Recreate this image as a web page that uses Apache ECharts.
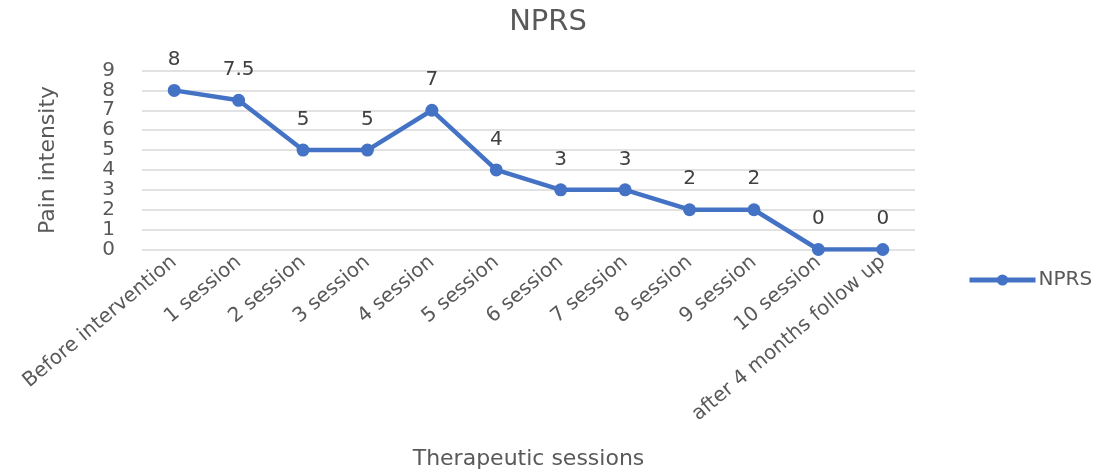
<!DOCTYPE html>
<html><head><meta charset="utf-8">
<script src="https://cdn.jsdelivr.net/npm/echarts@6/dist/echarts.min.js"></script>
<style>html,body{margin:0;padding:0;background:#fff}#c{width:1096px;height:475px}</style>
</head><body><div id="c"></div>
<script>
const categories = ["Before intervention","1 session","2 session","3 session","4 session","5 session","6 session","7 session","8 session","9 session","10 session","after 4 months follow up"];
const nprs = [8, 7.5, 5, 5, 7, 4, 3, 3, 2, 2, 0, 0];
const yTicks = [0,1,2,3,4,5,6,7,8,9];
const FONT = "DejaVu Sans";
const chart = echarts.init(document.getElementById('c'));
chart.setOption({
  animation: false,
  textStyle: {fontFamily: FONT},
  title: {text: 'NPRS', left: 'center', top: 3, textStyle: {fontFamily: FONT, fontSize: 29, fontWeight: 'normal', color: '#595959'}},
  legend: {data: ['NPRS'], left: 962, top: 265, itemWidth: 66, itemHeight: 14, itemGap: 6,
    lineStyle: {width: 5},
    textStyle: {fontFamily: FONT, fontSize: 20, color: '#595959', padding: [0,0,0,-2]}},
  grid: {left: 142, right: 181, top: 70.5, bottom: 225.5, containLabel: false, outerBoundsMode: 'none'},
  xAxis: {type: 'category', data: categories, boundaryGap: true,
    name: 'Therapeutic sessions', nameLocation: 'middle', nameGap: 199,
    nameTextStyle: {fontFamily: FONT, fontSize: 22, color: '#595959'},
    axisLine: {show: false}, axisTick: {show: false},
    axisLabel: {rotate: 40, interval: 0, fontSize: 20, color: '#595959', margin: 10}},
  yAxis: {type: 'value', min: yTicks[0], max: yTicks[yTicks.length-1], interval: 1,
    name: 'Pain intensity', nameLocation: 'middle', nameGap: 83, nameRotate: 90,
    nameTextStyle: {fontFamily: FONT, fontSize: 22, color: '#595959'},
    axisLine: {show: false}, axisTick: {show: false},
    axisLabel: {fontSize: 20, color: '#595959', margin: 27},
    splitLine: {lineStyle: {color: '#d9d9d9', width: 1.5}}},
  series: [{name: 'NPRS', type: 'line', data: nprs, symbol: 'circle', symbolSize: 13,
    lineStyle: {color: '#4472C4', width: 4.5}, itemStyle: {color: '#4472C4'},
    label: {show: true, position: 'top', distance: 14, fontSize: 20, color: '#404040', fontFamily: FONT}}]
});
</script></body></html>
